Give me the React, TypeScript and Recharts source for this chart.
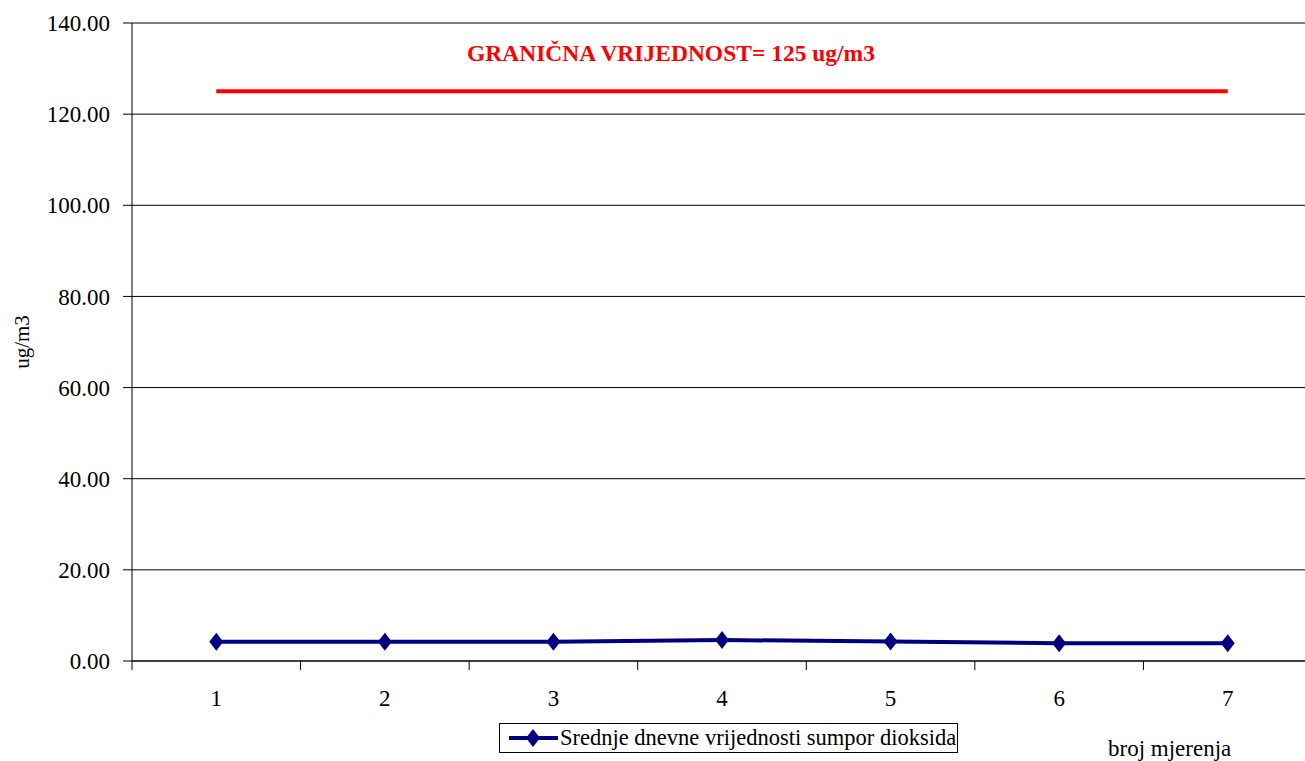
import React from 'react';
import { LineChart, Line, XAxis, YAxis, CartesianGrid, Legend } from 'recharts';

// broj mjerenja (measurement number) and daily SO2 means, ug/m3
const measurements = [1, 2, 3, 4, 5, 6, 7];
const so2Values = [4.2, 4.2, 4.2, 4.6, 4.3, 3.9, 3.9];
const limitValues = [125, 125, 125, 125, 125, 125, 125];
const yTicks = [0, 20, 40, 60, 80, 100, 120, 140];

const seriesName = 'Srednje dnevne vrijednosti sumpor dioksida';
const limitTitle = 'GRANIČNA VRIJEDNOST= 125 ug/m3';

// labels sit on each measurement, tick marks between them
const xTicks = measurements
  .flatMap((m) => [m - 0.5, m])
  .concat(measurements[measurements.length - 1] + 0.5);

const data = measurements.map((n, i) => ({
  n,
  so2: so2Values[i],
  limit: limitValues[i],
}));

const FONT = '"Liberation Serif", "Times New Roman", serif';
const NAVY = '#000080';

const Diamond = (props: any) => {
  const { cx, cy } = props;
  if (cx == null || cy == null) return null;
  return (
    <polygon
      points={`${cx},${cy - 9} ${cx + 7},${cy} ${cx},${cy + 9} ${cx - 7},${cy}`}
      fill={NAVY}
    />
  );
};

const XTick = (props: any) => {
  const { x, y, payload } = props;
  const v = payload.value;
  if (!Number.isInteger(v)) {
    return <line x1={x} x2={x} y1={y - 9} y2={y} stroke="#000" />;
  }
  return (
    <text x={x} y={y + 36} textAnchor="middle" fill="#000" fontSize={23} fontFamily={FONT}>
      {v}
    </text>
  );
};

const LegendBox = (props: any) => {
  const items = (props.payload || []).filter((p: any) => p.dataKey === 'so2');
  return (
    <div
      style={{
        border: '1px solid #000',
        height: 30,
        display: 'flex',
        alignItems: 'center',
        boxSizing: 'border-box',
        fontFamily: FONT,
        fontSize: 22.5,
        color: '#000',
        paddingLeft: 9,
      }}
    >
      {items.map((p: any) => (
        <React.Fragment key={p.value}>
          <svg width={50} height={20} style={{ flex: 'none' }}>
            <line x1={0} x2={49} y1={10} y2={10} stroke={NAVY} strokeWidth={4} />
            <polygon points="24,1 31,10 24,19 17,10" fill={NAVY} />
          </svg>
          <span style={{ whiteSpace: 'nowrap', marginLeft: 1 }}>{p.value}</span>
        </React.Fragment>
      ))}
    </div>
  );
};

export default function App() {
  return (
    <div
      style={{
        position: 'absolute',
        left: 0,
        top: 0,
        width: 1305,
        height: 761,
        overflow: 'hidden',
        background: '#fff',
      }}
    >
      <LineChart
        width={1320}
        height={761}
        data={data}
        margin={{ top: 23, right: 8, bottom: 0, left: 0 }}
      >
        <CartesianGrid vertical={false} stroke="#000" />
        <XAxis
          dataKey="n"
          type="number"
          domain={[0.5, 7.5]}
          ticks={xTicks}
          interval={0}
          height={100}
          tickLine={false}
          tickSize={9}
          tickMargin={0}
          axisLine={{ stroke: '#000' }}
          tick={<XTick />}
        />
        <YAxis
          domain={[0, 140]}
          ticks={yTicks}
          interval={0}
          width={132}
          tickSize={9}
          tickMargin={13}
          tickFormatter={(v: number) => v.toFixed(2)}
          axisLine={{ stroke: '#000' }}
          tickLine={{ stroke: '#000' }}
          tick={{ fill: '#000', fontSize: 23, fontFamily: FONT }}
        />
        <Legend
          layout="horizontal"
          verticalAlign="middle"
          align="center"
          wrapperStyle={{ left: 499, top: 723, width: 459 }}
          content={<LegendBox />}
        />
        <Line
          dataKey="limit"
          stroke="#ff0000"
          strokeWidth={4}
          dot={false}
          legendType="none"
          isAnimationActive={false}
        />
        <Line
          dataKey="so2"
          name={seriesName}
          stroke={NAVY}
          strokeWidth={4}
          dot={<Diamond />}
          isAnimationActive={false}
        />
      </LineChart>
      <div
        style={{
          position: 'absolute',
          left: 467,
          top: 42,
          fontFamily: FONT,
          fontSize: 23.5,
          fontWeight: 'bold',
          color: '#ff0000',
          lineHeight: 1,
          whiteSpace: 'nowrap',
        }}
      >
        {limitTitle}
      </div>
      <div
        style={{
          position: 'absolute',
          left: 1108,
          top: 737,
          fontFamily: FONT,
          fontSize: 23,
          lineHeight: 1,
          whiteSpace: 'nowrap',
        }}
      >
        broj mjerenja
      </div>
      <div
        style={{
          position: 'absolute',
          left: 22,
          top: 342,
          transform: 'translate(-50%, -50%) rotate(-90deg)',
          fontFamily: FONT,
          fontSize: 21,
          lineHeight: 1,
          whiteSpace: 'nowrap',
        }}
      >
        ug/m3
      </div>
    </div>
  );
}
